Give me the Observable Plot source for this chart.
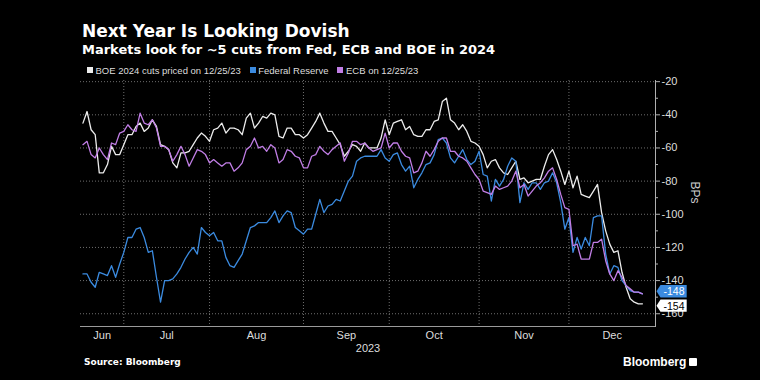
<!DOCTYPE html>
<html>
<head>
<meta charset="utf-8">
<script src="https://cdn.jsdelivr.net/npm/d3@7"></script>
<script src="https://cdn.jsdelivr.net/npm/@observablehq/plot@0.6"></script>
<style>
  html, body { margin: 0; padding: 0; background: #000; }
  #wrap { position: relative; width: 760px; height: 380px; background: #000; overflow: hidden; }
  #chart { position: absolute; left: 0; top: 0; }
  .t { position: absolute; white-space: nowrap; line-height: 1; }
  #title { left: 82px; top: 21px; font: bold 17px "DejaVu Sans", sans-serif; color: #fff; }
  #subtitle { left: 82px; top: 41.5px; font: bold 13px "DejaVu Sans", sans-serif; color: #fff; }
  #legend { left: 87px; top: 64.5px; font: 9.5px "Liberation Sans", Arial, sans-serif; color: #ddd; display: flex; gap: 9px; }
  #legend span.it { display: flex; align-items: center; gap: 2.5px; }
  #legend i { display: inline-block; width: 6px; height: 6px; }
  #source { left: 84px; top: 357px; font: bold 9px "DejaVu Sans", sans-serif; color: #fff; }
  #logo { left: 623px; top: 355px; font: bold 12px "Liberation Sans", Arial, sans-serif; color: #fff; display: flex; align-items: center; gap: 3px; }
  #logo b { display: inline-block; width: 8px; height: 8px; background: #fff; border-radius: 1px; position: relative; }
</style>
</head>
<body>
<div id="wrap">
  <div id="chart"></div>
  <div class="t" id="title">Next Year Is Looking Dovish</div>
  <div class="t" id="subtitle">Markets look for ~5 cuts from Fed, ECB and BOE in 2024</div>
  <div class="t" id="legend"></div>
  <div class="t" id="source">Source: Bloomberg</div>
  <div class="t" id="logo">Bloomberg<b></b></div>
</div>
<script>
// ---- data (one value per trading day, 19 Jun 2023 -> 27 Dec 2023) ----
const boe = [-45,-38,-49,-52,-75,-75,-70,-59,-64,-64,-58,-52,-52,-47,-45,-50,-48,-43,-47,-58,-59,-61,-69,-72,
  -63,-63,-62,-58,-54,-51,-53,-56,-49,-48,-45,-51,-48,-48,-49,-52,-42,-39,-48,-45,-41,-42,-39,
  -40,-53,-54,-48,-48,-52,-52,-54,-52,-48,-44,-39,-45,-50,-50,-54,-58,-65,-62,-58,-59,-62,-57,-60,
  -60,-60,-54,-43,-52,-45,-44,-43,-49,-47,-52,-53,-53,-49,-49,-44,-43,-32,-30,-43,-45,-49,-46,
  -50,-56,-57,-59,-64,-72,-68,-67,-72,-75,-76,-72,-68,-79,-78,-81,-80,-79,-79,-71,-64,-61,-67,-74,
  -82,-74,-84,-77,-88,-89,-90,-86,-82,-99,-110,-118,-123,-122,-135,-144,-151,-153,-154,-154];
const fed = [-136,-136,-141,-144,-135,-136,-137,-131,-138,-130,-123,-114,-114,-109,-108,-114,-123,-122,-138,-153,-140,-140,-139,-136,
  -132,-127,-123,-120,-124,-108,-111,-113,-111,-116,-116,-126,-131,-132,-128,-124,-116,-108,-107,-105,-105,-105,-102,
  -98,-105,-101,-98,-99,-108,-110,-112,-109,-109,-100,-91,-99,-95,-94,-91,-92,-86,-80,-77,-68,-66,-65,-65,
  -65,-65,-61,-66,-68,-64,-63,-70,-74,-71,-84,-79,-75,-70,-69,-64,-55,-54,-57,-66,-69,-65,-61,
  -67,-70,-68,-62,-76,-77,-92,-79,-83,-79,-71,-66,-68,-93,-81,-85,-81,-81,-85,-81,-80,-75,-81,-93,
  -109,-102,-123,-114,-121,-114,-119,-102,-101,-101,-124,-136,-131,-132,-140,-143,-146,-147,-147,-148];
const ecb = [-58,-56,-64,-66,-60,-64,-67,-57,-58,-51,-50,-46,-49,-50,-39,-45,-46,-43,-48,-59,-59,-61,-68,-64,
  -59,-64,-71,-66,-61,-62,-64,-69,-67,-69,-71,-69,-69,-74,-72,-69,-61,-59,-54,-60,-59,-62,-58,
  -60,-69,-67,-61,-62,-65,-66,-72,-72,-65,-64,-59,-62,-64,-61,-59,-57,-68,-63,-56,-56,-58,-57,-60,
  -62,-61,-60,-51,-60,-57,-57,-62,-65,-66,-75,-74,-69,-62,-65,-61,-56,-54,-54,-62,-62,-65,-66,
  -68,-72,-76,-79,-86,-87,-88,-83,-85,-84,-83,-80,-74,-84,-82,-89,-86,-83,-81,-78,-74,-72,-79,-88,
  -96,-97,-119,-118,-127,-127,-127,-117,-117,-115,-128,-136,-140,-134,-138,-143,-145,-147,-147,-148];
const seriesNames = ["BOE 2024 cuts priced on 12/25/23", "Federal Reserve", "ECB on 12/25/23"];
const seriesColors = ["#ececec", "#3b8be0", "#c17ee6"];
const months = ["Jun", "Jul", "Aug", "Sep", "Oct", "Nov", "Dec"];
const yearLabel = ["2023"];
const yTicks = [-20, -40, -60, -80, -100, -120, -140, -160];
const yMinor = [-30, -50, -70, -90, -110, -130, -150];

// trading-day calendar (x axis is indexed by trading day)
const dates = [];
for (let d = new Date(2023, 5, 19); dates.length < boe.length; d.setDate(d.getDate() + 1)) {
  if (d.getDay() !== 0 && d.getDay() !== 6) dates.push(new Date(d));
}
const bounds = d3.range(1, dates.length).filter(i => dates[i].getMonth() !== dates[i - 1].getMonth());
const xDomain = [-0.6, 140.2];
const edges = [xDomain[0], ...bounds, xDomain[1]];
const mids = d3.range(months.length).map(k => (edges[k] + edges[k + 1]) / 2);

const rows = [];
[boe, fed, ecb].forEach((arr, s) => arr.forEach((v, i) => rows.push({i, v, s: seriesNames[s], date: dates[i]})));

// legend
const legend = document.getElementById("legend");
seriesNames.forEach((n, k) => {
  const it = document.createElement("span"); it.className = "it";
  const sw = document.createElement("i"); sw.style.background = seriesColors[k];
  it.appendChild(sw); it.appendChild(document.createTextNode(n));
  legend.appendChild(it);
});

const grid = {stroke: "#8a8a8a", strokeOpacity: 0.8, strokeDasharray: "1,2", strokeWidth: 1};
const lastFed = fed[fed.length - 1], lastBoe = boe[boe.length - 1];

const chart = Plot.plot({
  width: 760, height: 380,
  marginTop: 80, marginBottom: 54, marginLeft: 80, marginRight: 105,
  style: {background: "transparent", color: "#ddd", fontFamily: "'Liberation Sans', Arial, sans-serif", fontSize: "11px"},
  x: {type: "linear", domain: xDomain},
  y: {domain: [-167.7, -19.3]},
  color: {domain: seriesNames, range: seriesColors},
  marks: [
    Plot.gridY(yTicks, grid),
    Plot.gridX(bounds, grid),
    Plot.frame({anchor: "bottom", stroke: "#9a9a9a"}),
    Plot.frame({anchor: "right", stroke: "#b0b0b0"}),
    Plot.axisX(mids, {anchor: "bottom", tickSize: 0, tickPadding: 5, tickFormat: (d, i) => months[i], fill: "#ddd", label: null}),
    Plot.axisY(yTicks, {anchor: "right", tickSize: 4, tickPadding: 2, tickFormat: d => String(d), fill: "#ddd", stroke: "#b0b0b0", label: null}),
    Plot.axisY(yMinor, {anchor: "right", tickSize: 2, text: null, stroke: "#b0b0b0", label: null}),
    Plot.text(["BPs"], {frameAnchor: "right", dx: 39, rotate: 90, fill: "#ccc", fontSize: 12}),
    Plot.text(yearLabel, {frameAnchor: "bottom", dy: 25, fill: "#ddd", fontSize: 11}),
    Plot.line(rows, {x: "i", y: "v", z: "s", stroke: "s", strokeWidth: 1.3}),
    Plot.text([lastFed], {y: d => d, frameAnchor: "right", dx: 8, dy: -2, textAnchor: "start", text: d => String(d), fill: "#fff", fontSize: 10.5}),
    Plot.text([lastBoe], {y: d => d, frameAnchor: "right", dx: 8, dy: 2.5, textAnchor: "start", text: d => String(d), fill: "#000", fontSize: 10.5})
  ]
});
document.getElementById("chart").appendChild(chart);

// tag backgrounds behind the two end-value labels
const svgNS = "http://www.w3.org/2000/svg";
const tagDefs = [[String(lastFed), seriesColors[1]], [String(lastBoe), "#ffffff"]];
chart.querySelectorAll("text").forEach(t => {
  const def = tagDefs.find(([s]) => t.textContent === s);
  if (!def) return;
  const b = t.getBBox();
  const g = t.parentNode;
  const h = 12.4, cy = b.y + b.height / 2;
  const x0 = b.x - 3;
  const path = document.createElementNS(svgNS, "path");
  path.setAttribute("d", `M${x0 - 4},${cy} L${x0},${cy - h / 2} H${b.x + b.width + 2} V${cy + h / 2} H${x0} Z`);
  path.setAttribute("fill", def[1]);
  if (t.getAttribute("transform")) path.setAttribute("transform", t.getAttribute("transform"));
  g.insertBefore(path, t);
});
</script>
</body>
</html>
